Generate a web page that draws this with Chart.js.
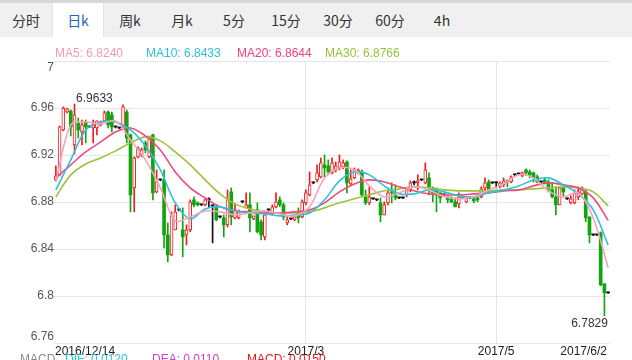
<!DOCTYPE html>
<html>
<head>
<meta charset="utf-8">
<script src="https://cdn.jsdelivr.net/npm/chart.js@4.4.1/dist/chart.umd.min.js"></script>
<style>
  html, body { margin: 0; padding: 0; background: #fff; overflow: hidden; }
  #wrap { position: relative; width: 632px; height: 360px; overflow: hidden; font-family: "Liberation Sans", Arial, sans-serif; }
  #tabs { position: absolute; left: 0; top: 0; width: 632px; height: 34px; background: #f0f0f0; border-top: 3px solid #d6d6d6; display: flex; font-family: "Noto Sans CJK SC", sans-serif; font-size: 14px; color: #333; z-index: 2; }
  .tab { width: 52px; text-align: center; line-height: 34px; }
  .tab.on { width: 50px; background: #fff; color: #2d62c4; border-left: 1px solid #e2e2e2; border-right: 1px solid #e2e2e2; }
  .lg { position: absolute; top: 46px; font-size: 12px; line-height: 14px; white-space: nowrap; z-index: 2; }
  .macd { position: absolute; top: 352px; font-size: 12px; line-height: 14px; white-space: nowrap; z-index: 2; }
  #chartBox { position: absolute; left: 0; top: 0; width: 632px; height: 360px; z-index: 1; }
</style>
</head>
<body>
<div id="wrap">
  <div id="tabs">
    <div class="tab">分时</div>
    <div class="tab on">日k</div>
    <div class="tab">周k</div>
    <div class="tab">月k</div>
    <div class="tab">5分</div>
    <div class="tab">15分</div>
    <div class="tab">30分</div>
    <div class="tab">60分</div>
    <div class="tab">4h</div>
  </div>
  <span class="lg" style="left:55px;color:#f59ab5">MA5: 6.8240</span>
  <span class="lg" style="left:146px;color:#2fc1da">MA10: 6.8433</span>
  <span class="lg" style="left:237px;color:#f0417d">MA20: 6.8644</span>
  <span class="lg" style="left:325px;color:#98c23a">MA30: 6.8766</span>
  <div id="chartBox"><canvas id="kChart"></canvas></div>
  <span class="macd" style="left:20px;color:#888">MACD</span>
  <span class="macd" style="left:65px;color:#2fc1da">DIF: 0.0120</span>
  <span class="macd" style="left:152px;color:#d43bd0">DEA: 0.0110</span>
  <span class="macd" style="left:247px;color:#e8151b">MACD: 0.0150</span>
</div>
<script>
// daily candles, 2016/12/14 .. 2017/6/2
const open = [
  6.8988, 6.9031, 6.9413, 6.9566, 6.9575, 6.9286, 6.9473, 6.9396, 6.9481, 6.9439,
  6.9430, 6.9430, 6.9456, 6.9490, 6.9566, 6.9541, 6.9439, 6.9430, 6.9439, 6.9566,
  6.9371, 6.8920, 6.9184, 6.9201, 6.9303, 6.9184, 6.9371, 6.8886, 6.8988, 6.8988,
  6.8520, 6.8350, 6.8563, 6.8733, 6.8563, 6.8520, 6.8563, 6.8818, 6.8793, 6.8776,
  6.8776, 6.8818, 6.8767, 6.8759, 6.8673, 6.8665, 6.8605, 6.8886, 6.8665, 6.8665,
  6.8801, 6.8750, 6.8776, 6.8656, 6.8733, 6.8631, 6.8503, 6.8733, 6.8707, 6.8759,
  6.8818, 6.8776, 6.8622, 6.8656, 6.8648, 6.8707, 6.8673, 6.8793, 6.8861, 6.8963,
  6.8988, 6.9014, 6.9116, 6.9107, 6.9048, 6.9073, 6.9090, 6.9099, 6.9141, 6.8954,
  6.9005, 6.9048, 6.9056, 6.8844, 6.8793, 6.8827, 6.8818, 6.8793, 6.8690, 6.8793,
  6.8886, 6.8878, 6.8835, 6.8835, 6.8861, 6.8903, 6.8963, 6.8963, 6.8988, 6.8963,
  6.9005, 6.8920, 6.8895, 6.8878, 6.8861, 6.8844, 6.8835, 6.8801, 6.8784, 6.8844,
  6.8801, 6.8835, 6.8827, 6.8835, 6.8844, 6.8920, 6.8971, 6.8963, 6.8963, 6.8929,
  6.8946, 6.8980, 6.8971, 6.9031, 6.9039, 6.9022, 6.9073, 6.9056, 6.9048, 6.9014,
  6.8971, 6.8988, 6.8971, 6.8903, 6.8844, 6.8776, 6.8929, 6.8827, 6.8793, 6.8793,
  6.8844, 6.8869, 6.8886, 6.8673, 6.8520, 6.8520, 6.8537, 6.8104, 6.8027
];
const high = [
  6.9107, 6.9447, 6.9609, 6.9600, 6.9583, 6.9633, 6.9515, 6.9498, 6.9498, 6.9445,
  6.9498, 6.9490, 6.9490, 6.9575, 6.9575, 6.9566, 6.9445, 6.9436, 6.9626, 6.9583,
  6.9379, 6.9184, 6.9269, 6.9260, 6.9320, 6.9362, 6.9379, 6.9073, 6.8995, 6.9073,
  6.8622, 6.8716, 6.8776, 6.8740, 6.8750, 6.8605, 6.8818, 6.8844, 6.8801, 6.8782,
  6.8827, 6.8835, 6.8776, 6.8776, 6.8680, 6.8690, 6.8903, 6.8920, 6.8784, 6.8733,
  6.8810, 6.8878, 6.8878, 6.8682, 6.8793, 6.8648, 6.8707, 6.8740, 6.8776, 6.8878,
  6.8844, 6.8793, 6.8673, 6.8662, 6.8682, 6.8750, 6.8818, 6.8903, 6.9056, 6.8970,
  6.9116, 6.9175, 6.9201, 6.9158, 6.9175, 6.9141, 6.9201, 6.9158, 6.9150, 6.9073,
  6.9090, 6.9082, 6.9073, 6.8903, 6.8929, 6.8833, 6.8824, 6.8835, 6.8801, 6.8903,
  6.8963, 6.8946, 6.8841, 6.8841, 6.8920, 6.8980, 6.8980, 6.9031, 6.8994, 6.9133,
  6.9048, 6.8929, 6.8920, 6.8878, 6.8867, 6.8844, 6.8844, 6.8835, 6.8878, 6.8852,
  6.8844, 6.8841, 6.8844, 6.8844, 6.8929, 6.9005, 6.8988, 6.8969, 6.8971, 6.8971,
  6.9005, 6.8988, 6.9022, 6.9037, 6.9045, 6.9056, 6.9082, 6.9073, 6.9056, 6.9031,
  6.8977, 6.9005, 6.8988, 6.8963, 6.8929, 6.8929, 6.8946, 6.8833, 6.8852, 6.8903,
  6.8929, 6.8929, 6.8903, 6.8673, 6.8526, 6.8526, 6.8546, 6.8104, 6.8033
];
const low = [
  6.8980, 6.9022, 6.9405, 6.9558, 6.9362, 6.9209, 6.9345, 6.9286, 6.9303, 6.9435,
  6.9303, 6.9371, 6.9447, 6.9481, 6.9430, 6.9396, 6.9430, 6.9425, 6.9430, 6.9303,
  6.8716, 6.8716, 6.9175, 6.9184, 6.9218, 6.9175, 6.8818, 6.8878, 6.8980, 6.8410,
  6.8291, 6.8342, 6.8563, 6.8725, 6.8333, 6.8435, 6.8546, 6.8759, 6.8767, 6.8770,
  6.8767, 6.8759, 6.8452, 6.8639, 6.8665, 6.8503, 6.8588, 6.8605, 6.8656, 6.8656,
  6.8793, 6.8750, 6.8546, 6.8648, 6.8537, 6.8478, 6.8478, 6.8725, 6.8690, 6.8750,
  6.8759, 6.8648, 6.8605, 6.8650, 6.8639, 6.8622, 6.8665, 6.8776, 6.8852, 6.8955,
  6.8971, 6.9005, 6.9014, 6.9031, 6.9039, 6.9056, 6.9073, 6.9082, 6.8878, 6.8946,
  6.8997, 6.9039, 6.8844, 6.8776, 6.8776, 6.8821, 6.8812, 6.8631, 6.8690, 6.8776,
  6.8793, 6.8818, 6.8829, 6.8829, 6.8844, 6.8886, 6.8946, 6.8903, 6.8982, 6.8954,
  6.8861, 6.8801, 6.8716, 6.8793, 6.8855, 6.8793, 6.8793, 6.8759, 6.8750, 6.8827,
  6.8793, 6.8829, 6.8793, 6.8801, 6.8835, 6.8886, 6.8886, 6.8957, 6.8920, 6.8920,
  6.8929, 6.8929, 6.8963, 6.9025, 6.9033, 6.9014, 6.9031, 6.9005, 6.8971, 6.8963,
  6.8965, 6.8954, 6.8886, 6.8835, 6.8690, 6.8776, 6.8844, 6.8821, 6.8784, 6.8784,
  6.8818, 6.8861, 6.8631, 6.8452, 6.8514, 6.8514, 6.8087, 6.7829, 6.8021
];
const close = [
  6.9022, 6.9439, 6.9600, 6.9592, 6.9439, 6.9541, 6.9413, 6.9456, 6.9439, 6.9439,
  6.9456, 6.9490, 6.9481, 6.9558, 6.9456, 6.9439, 6.9439, 6.9430, 6.9609, 6.9345,
  6.8861, 6.9175, 6.9260, 6.9243, 6.9243, 6.9354, 6.8878, 6.8971, 6.8988, 6.8520,
  6.8350, 6.8682, 6.8716, 6.8733, 6.8503, 6.8563, 6.8801, 6.8776, 6.8776, 6.8776,
  6.8818, 6.8818, 6.8767, 6.8648, 6.8673, 6.8605, 6.8818, 6.8673, 6.8733, 6.8716,
  6.8801, 6.8776, 6.8665, 6.8682, 6.8546, 6.8520, 6.8690, 6.8733, 6.8759, 6.8801,
  6.8776, 6.8673, 6.8648, 6.8656, 6.8673, 6.8665, 6.8801, 6.8878, 6.8946, 6.8963,
  6.9048, 6.9133, 6.9090, 6.9056, 6.9133, 6.9107, 6.9141, 6.9133, 6.8963, 6.8997,
  6.9073, 6.9073, 6.8861, 6.8793, 6.8844, 6.8827, 6.8818, 6.8690, 6.8776, 6.8878,
  6.8878, 6.8835, 6.8835, 6.8835, 6.8903, 6.8963, 6.8963, 6.8980, 6.8988, 6.9073,
  6.8929, 6.8878, 6.8861, 6.8835, 6.8861, 6.8818, 6.8801, 6.8759, 6.8844, 6.8835,
  6.8835, 6.8835, 6.8810, 6.8818, 6.8912, 6.8963, 6.8903, 6.8963, 6.8963, 6.8963,
  6.8980, 6.8971, 6.9014, 6.9031, 6.9039, 6.9048, 6.9048, 6.9031, 6.9014, 6.8971,
  6.8971, 6.8963, 6.8903, 6.8844, 6.8776, 6.8920, 6.8886, 6.8827, 6.8827, 6.8878,
  6.8886, 6.8920, 6.8665, 6.8520, 6.8520, 6.8520, 6.8095, 6.8027, 6.8027
];

// moving averages read every 4th candle (index 0, 4, 8 ... 148)
const maStep = 4;
const ma5 = [
  6.8971, 6.9456, 6.9481, 6.9464, 6.9490, 6.9328, 6.9158, 6.8920, 6.8639, 6.8673,
  6.8724, 6.8716, 6.8690, 6.8707, 6.8724, 6.8699, 6.8682, 6.8759, 6.9005, 6.9090,
  6.9073, 6.8937, 6.8844, 6.8878, 6.8929, 6.8903, 6.8844, 6.8827, 6.8844, 6.8903,
  6.8954, 6.9031, 6.9005, 6.8895, 6.8844, 6.8878, 6.8665, 6.8240
];
const ma10 = [
  6.8903, 6.9158, 6.9413, 6.9481, 6.9481, 6.9413, 6.9277, 6.9073, 6.8793, 6.8656,
  6.8741, 6.8759, 6.8724, 6.8707, 6.8699, 6.8682, 6.8690, 6.8707, 6.8818, 6.8980,
  6.9056, 6.9031, 6.8937, 6.8869, 6.8869, 6.8903, 6.8886, 6.8852, 6.8844, 6.8878,
  6.8903, 6.8937, 6.8988, 6.9005, 6.8946, 6.8869, 6.8733, 6.8433
];
const ma20 = [
  6.9005, 6.9116, 6.9226, 6.9311, 6.9396, 6.9430, 6.9362, 6.9243, 6.9056, 6.8920,
  6.8835, 6.8759, 6.8724, 6.8716, 6.8707, 6.8707, 6.8716, 6.8733, 6.8793, 6.8886,
  6.8954, 6.8988, 6.8971, 6.8929, 6.8895, 6.8869, 6.8861, 6.8861, 6.8869, 6.8878,
  6.8895, 6.8903, 6.8937, 6.8963, 6.8946, 6.8920, 6.8835, 6.8644
];
const ma30 = [
  6.8844, 6.9031, 6.9124, 6.9175, 6.9235, 6.9303, 6.9354, 6.9320, 6.9226, 6.9116,
  6.8988, 6.8869, 6.8784, 6.8741, 6.8716, 6.8707, 6.8707, 6.8716, 6.8750, 6.8793,
  6.8827, 6.8861, 6.8895, 6.8912, 6.8929, 6.8920, 6.8903, 6.8895, 6.8895, 6.8895,
  6.8903, 6.8903, 6.8912, 6.8920, 6.8929, 6.8920, 6.8886, 6.8766
];

// axis ticks
const yTicks = [6.76, 6.8, 6.84, 6.88, 6.92, 6.96, 7];
const xTickIndex = [0, 67, 118, 148];
const xTickLabels = ["2016/12/14", "2017/3", "2017/5", "2017/6/2"];

const categories = open.map((_, i) => i);

const UP = "#f21b1b";
const DOWN = "#10a50f";
const DOJI = "#111111";
const GRID = "#e6e6e6";

const candleColor = (i) => (close[i] > open[i] ? UP : close[i] < open[i] ? DOWN : DOJI);
const colors = categories.map(candleColor);

// spread the sampled MA values over the candle slots (gaps are spanned by the line)
const spread = (arr) => categories.map((i) => (i % maStep === 0 ? arr[i / maStep] : null));

const maLine = (label, arr, color) => ({
  type: "line",
  label: label,
  data: spread(arr),
  borderColor: color,
  borderWidth: 1.6,
  pointRadius: 0,
  tension: 0.35,
  spanGaps: true,
  order: 1,
});

// draws axis labels and the high / low notes
const labelPlugin = {
  id: "kLabels",
  afterDraw(chart) {
    const { ctx, chartArea, scales } = chart;
    const xs = scales.x;
    const ys = scales.y;
    ctx.save();
    ctx.font = '12px "Liberation Sans", Arial, sans-serif';

    // y tick labels, top and bottom ones pushed inside
    ctx.fillStyle = "#555";
    ctx.textAlign = "right";
    ctx.textBaseline = "middle";
    yTicks.forEach((v) => {
      let y = ys.getPixelForValue(v);
      if (v === 7) y += 7;
      if (v === 6.76) y -= 6;
      ctx.fillText(String(v), chartArea.left, y);
    });

    // x tick labels
    ctx.fillStyle = "#222";
    xTickIndex.forEach((idx, k) => {
      let x = xs.getPixelForValue(idx);
      if (k === 0) {
        ctx.textAlign = "left";
        x = chartArea.left + 1;
      } else if (k === xTickIndex.length - 1) {
        ctx.textAlign = "right";
        x = chartArea.right - 3;
      } else {
        ctx.textAlign = "center";
      }
      ctx.fillText(xTickLabels[k], x, chartArea.bottom + 9);
    });

    // highest high and lowest low
    const hiIdx = high.indexOf(Math.max(...high));
    const loIdx = low.indexOf(Math.min(...low));
    ctx.fillStyle = "#333";
    ctx.textBaseline = "alphabetic";
    ctx.textAlign = "left";
    ctx.fillText(high[hiIdx].toFixed(4), xs.getPixelForValue(hiIdx) + 1.5, ys.getPixelForValue(high[hiIdx]) - 2);
    ctx.textAlign = "right";
    ctx.fillText(low[loIdx].toFixed(4), xs.getPixelForValue(loIdx) + 3.5, ys.getPixelForValue(low[loIdx]) + 11);
    ctx.restore();
  },
};

new Chart(document.querySelector("#kChart"), {
  type: "bar",
  data: {
    labels: categories,
    datasets: [
      maLine("MA5", ma5, "#f7a3bc"),
      maLine("MA10", ma10, "#2fc1da"),
      maLine("MA20", ma20, "#ee4a80"),
      maLine("MA30", ma30, "#9cc43b"),
      {
        // candle bodies
        type: "bar",
        label: "body",
        data: categories.map((i) => [Math.min(open[i], close[i]), Math.max(open[i], close[i])]),
        backgroundColor: categories.map((i) => (colors[i] === UP ? "#ffffff" : colors[i])),
        borderColor: colors,
        borderWidth: categories.map((i) => (colors[i] === UP ? 1 : 0)),
        borderSkipped: false,
        barThickness: 3,
        minBarLength: 1,
        grouped: false,
        order: 2,
      },
      {
        // wicks
        type: "bar",
        label: "wick",
        data: categories.map((i) => [low[i], high[i]]),
        backgroundColor: colors,
        barThickness: 1,
        minBarLength: 1,
        grouped: false,
        order: 3,
      },
    ],
  },
  options: {
    responsive: true,
    maintainAspectRatio: false,
    animation: false,
    events: [],
    layout: { padding: { left: 54, top: 61, right: 22, bottom: 17 } },
    scales: {
      x: {
        type: "category",
        offset: true,
        ticks: { display: false },
        grid: {
          offset: false,
          drawTicks: false,
          color: (c) => (xTickIndex.slice(1, -1).includes(c.index) ? GRID : "rgba(0,0,0,0)"),
        },
        border: { display: false },
      },
      y: {
        min: 6.76,
        max: 7,
        afterBuildTicks: (s) => {
          s.ticks = yTicks.map((v) => ({ value: v }));
        },
        ticks: { display: false },
        grid: { color: GRID, drawTicks: false },
        border: { display: false },
      },
    },
    plugins: {
      legend: { display: false },
      tooltip: { enabled: false },
    },
  },
  plugins: [labelPlugin],
});
</script>
</body>
</html>
